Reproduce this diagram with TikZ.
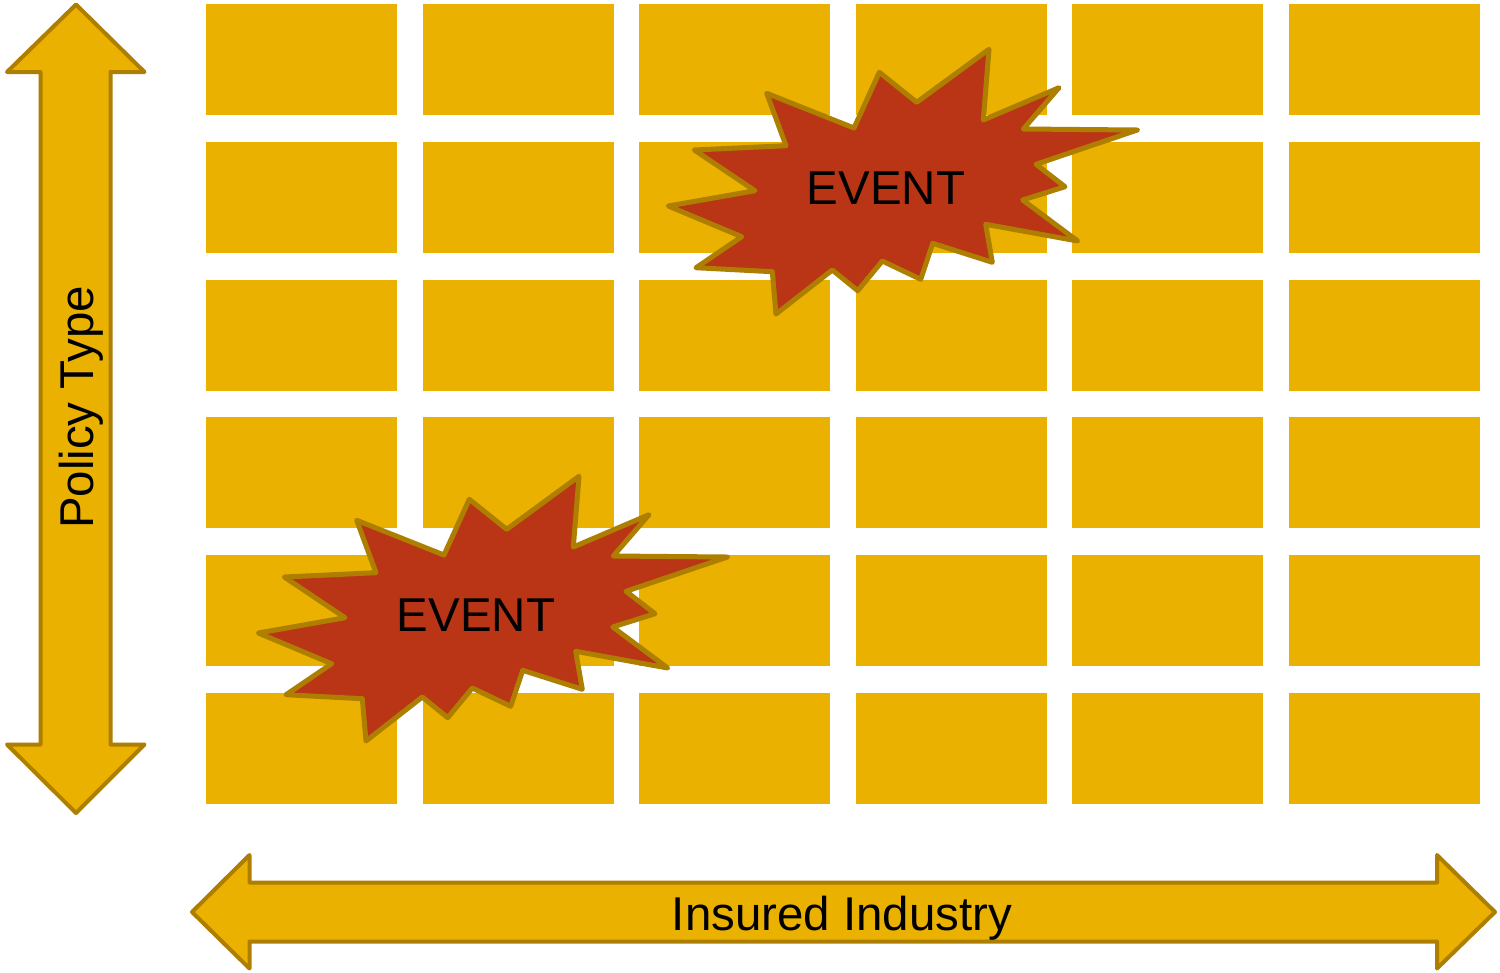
\documentclass[tikz,border=0pt]{standalone}
\usepackage{fontspec}
\setmainfont{Liberation Sans}

\definecolor{gridgold}{RGB}{234,177,0}
\definecolor{edgegold}{RGB}{174,126,0}
\definecolor{eventred}{RGB}{186,52,22}

\tikzset{
  cell/.style={fill=gridgold},
  axisarrow/.style={fill=gridgold,draw=edgegold,line width=0.8mm,line join=round},
  burst/.style={fill=eventred,draw=edgegold,line width=1mm,line join=round},
  axislabel/.style={font=\fontsize{27}{32}\selectfont,inner sep=0pt,anchor=base},
}

% explosion outline, drawn at the upper position and shifted by #1
\newcommand{\eventburst}[1]{%
\draw[burst,shift={#1}] (766.7,93.3) -- (854,128) -- (879.3,72.3) -- (916.7,102.3)
  -- (989,49.3) -- (983.3,120) -- (1059,87.7) -- (1023.3,129) -- (1137.3,130)
  -- (1036,164.3) -- (1065,186.7) -- (1022.7,200) -- (1077.7,241) -- (985.7,224.3)
  -- (992.3,262.3) -- (932.7,243.3) -- (920.7,279.3) -- (882.3,261) -- (857.7,290.7)
  -- (832.3,270) -- (776,314) -- (772.3,271.7) -- (696,267.7) -- (741.7,236.7)
  -- (668.3,206) -- (755,190.7) -- (694.3,150) -- (786,145.7) -- cycle;}

\begin{document}
\begin{tikzpicture}[x=0.2mm,y=-0.2mm]
\useasboundingbox (0,0) rectangle (1500,972);

% industry x policy grid
\foreach \i in {0,...,5}
  \foreach \j in {0,...,5}
    \fill[cell] ({206+216.6*\i},{4+137.8*\j}) rectangle ++(191,111);

% axes
\draw[axisarrow] (76,4.5) -- (7,72) -- (40.5,72) -- (40.5,744.5) -- (7,744.5)
  -- (76,813) -- (144.5,744.5) -- (110.5,744.5) -- (110.5,72) -- (144.5,72) -- cycle;
\draw[axisarrow] (192,912) -- (249.5,855) -- (249.5,882.5) -- (1437,882.5) -- (1437,855)
  -- (1495,912) -- (1437,968.5) -- (1437,941.5) -- (249.5,941.5) -- (249.5,968.5) -- cycle;

\node[axislabel,rotate=90] (policy) at (93,407.5) {Policy Type};
\node[axislabel] (industry) at (842,930) {Insured Industry};

%events
\eventburst{(0,0)}
\eventburst{(-410,427)}
\node[axislabel] (event1) at (886,204) {EVENT};
\node[axislabel] (event2) at (476,631) {EVENT};

\end{tikzpicture}
\end{document}
